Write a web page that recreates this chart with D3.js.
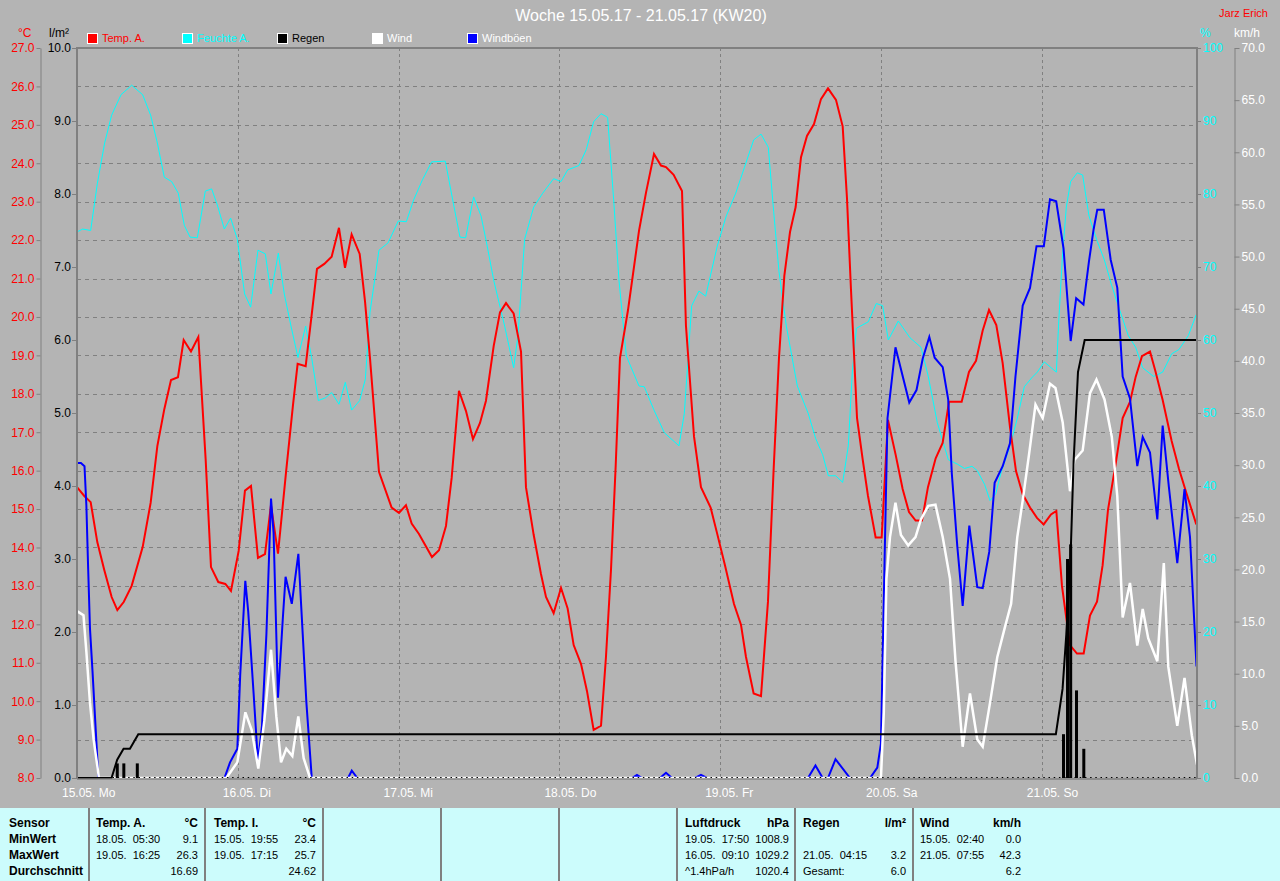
<!DOCTYPE html>
<html><head><meta charset="utf-8">
<script src="https://cdn.jsdelivr.net/npm/d3@7"></script>
<style>
html,body{margin:0;padding:0;background:#b4b4b4;}
svg{display:block;font-family:"Liberation Sans",Arial,sans-serif;}
</style></head><body>
<svg id="c" width="1280" height="881"></svg>
<script>
// ---------- DATA (hours since 15.05. 00:00, value) ----------
const titleText = "Woche 15.05.17 - 21.05.17 (KW20)";
const dayLabels = ["15.05. Mo","16.05. Di","17.05. Mi","18.05. Do","19.05. Fr","20.05. Sa","21.05. So"];
const legendNames = ["Temp. A.","Feuchte A.","Regen","Wind","Windböen"];
const tempTicks = d3.range(8, 28, 1);
const rainTicks = d3.range(0, 11, 1);
const humTicks = d3.range(0, 101, 10);
const windTicks = d3.range(0, 71, 5);

const tempA = [[0,15.57],[1.09,15.34],[2.04,15.18],[3.03,14.14],[4.08,13.41],[5.17,12.71],[6.02,12.37],[6.97,12.58],[8.16,13.0],[9.8,14.01],[10.99,15.16],[11.99,16.64],[13.03,17.6],[14.03,18.36],[15.07,18.43],[15.92,19.4],[17.01,19.1],[18.11,19.48],[19.2,16.3],[20.0,13.49],[21.09,13.1],[22.14,13.05],[22.98,12.87],[24.13,13.91],[25.07,15.48],[25.97,15.6],[27.01,13.73],[28.06,13.83],[28.95,15.1],[30.0,13.84],[31.19,15.94],[32.24,17.71],[32.93,18.78],[34.13,18.72],[35.02,20.05],[35.82,21.25],[36.91,21.38],[38.01,21.57],[39.1,22.32],[40.0,21.28],[40.99,22.15],[42.19,21.64],[42.98,20.42],[43.73,18.93],[45.07,15.97],[46.96,15.04],[48.06,14.9],[49.1,15.1],[49.95,14.62],[51.04,14.35],[52.98,13.75],[54.03,13.93],[55.07,14.56],[55.92,15.81],[57.01,18.08],[58.06,17.55],[59.1,16.82],[60.15,17.24],[61.04,17.82],[62.19,19.24],[63.13,20.12],[64.03,20.36],[65.17,20.09],[66.27,19.1],[67.01,15.57],[68.16,14.33],[69.25,13.31],[70.0,12.71],[71.14,12.29],[72.24,12.95],[73.23,12.41],[74.13,11.46],[75.22,10.97],[76.12,10.26],[77.11,9.25],[78.21,9.36],[78.95,11.15],[79.7,13.42],[80.4,16.12],[81.04,18.93],[82.24,20.18],[83.88,22.24],[84.92,23.23],[86.12,24.24],[87.16,23.94],[87.91,23.9],[89.05,23.7],[90.3,23.28],[90.89,19.77],[92.09,16.89],[93.13,15.57],[94.57,15.04],[95.52,14.38],[96.71,13.54],[98.06,12.53],[99.1,11.99],[99.85,11.15],[100.99,10.2],[102.09,10.13],[103.13,12.59],[103.98,16.05],[104.77,18.92],[105.57,21.07],[106.42,22.21],[107.26,22.86],[108.06,24.16],[108.95,24.71],[110.0,25.02],[111.04,25.67],[112.09,25.95],[113.28,25.65],[114.28,24.96],[114.92,23.1],[115.52,20.71],[116.42,17.37],[117.26,16.3],[118.06,15.34],[119.2,14.26],[120.1,14.26],[121.04,17.32],[122.19,16.41],[123.23,15.52],[124.18,14.92],[125.17,14.7],[126.12,14.7],[127.01,15.57],[128.16,16.32],[129.2,16.72],[130.15,17.79],[132.04,17.79],[133.13,18.57],[134.18,18.86],[135.17,19.64],[136.12,20.18],[137.21,19.79],[138.16,18.8],[139.25,17.14],[140.15,15.99],[141.14,15.39],[142.24,15.04],[143.28,14.77],[144.28,14.6],[145.37,14.86],[146.17,14.95],[147.01,13.0],[148.2,11.46],[149.25,11.24],[150.25,11.24],[151.19,12.23],[152.24,12.59],[153.08,13.54],[153.88,14.98],[155.02,16.17],[156.07,17.37],[157.16,17.79],[158.01,18.44],[158.95,18.98],[160.15,19.1],[160.99,18.57],[162.04,17.84],[163.38,16.77],[164.47,16.05],[165.52,15.45],[167.06,14.6]];

const humA = [[0,74.8],[0.85,75.2],[2.04,75.0],[3.03,81.4],[4.13,87.0],[5.17,90.8],[6.57,93.6],[8.16,94.9],[9.8,93.6],[10.99,90.8],[11.99,87.0],[13.03,82.3],[14.13,81.7],[15.12,80.1],[16.02,75.7],[16.87,74.1],[17.96,74.0],[19.15,80.4],[20.1,80.7],[20.94,78.5],[21.99,75.2],[22.93,76.7],[23.93,73.8],[25.02,66.3],[25.92,64.5],[27.01,72.3],[28.11,71.8],[28.95,66.3],[30.05,71.9],[30.94,66.3],[31.94,61.9],[32.98,57.6],[34.13,61.9],[35.02,57.6],[36.02,51.7],[37.11,52.1],[38.01,52.8],[39.1,51.2],[40.05,54.2],[40.99,50.4],[42.19,51.7],[43.03,54.6],[43.73,63.8],[45.07,72.3],[46.42,73.3],[47.96,76.3],[49.15,76.2],[50.25,79.2],[51.59,82.0],[52.93,84.4],[54.97,84.5],[56.22,78.5],[57.16,74.1],[58.01,74.0],[59.2,79.6],[60.3,77.0],[61.09,73.5],[62.19,68.2],[63.83,61.9],[65.17,56.2],[65.82,60.6],[66.81,73.8],[68.16,78.2],[69.5,80.1],[71.14,82.1],[72.24,81.7],[73.23,83.3],[74.92,83.9],[76.02,86.1],[77.11,89.9],[78.21,91.0],[79.2,90.5],[80.1,79.2],[80.89,68.2],[81.99,57.8],[83.88,53.7],[84.67,53.6],[86.07,50.5],[87.66,47.3],[89.85,45.5],[90.64,49.9],[91.74,64.7],[92.83,66.7],[93.83,66.0],[95.57,72.9],[96.91,77.0],[98.31,80.1],[99.6,83.6],[100.99,87.4],[102.09,88.2],[103.18,86.4],[103.98,77.6],[104.77,69.4],[105.87,61.9],[107.51,53.7],[109.15,49.9],[110.25,46.5],[111.29,44.3],[112.14,41.4],[113.23,41.4],[114.28,40.5],[115.12,45.5],[115.72,55.6],[116.32,61.6],[118.11,62.5],[119.3,65.0],[120.25,64.7],[121.09,60.0],[122.58,62.6],[124.33,60.3],[125.97,59.0],[127.06,55.0],[128.4,48.7],[130.05,43.6],[131.39,43.0],[132.48,42.4],[133.58,42.7],[134.37,42.1],[135.47,40.2],[136.27,38.0],[137.11,38.9],[137.91,41.8],[139.25,45.5],[140.35,49.3],[141.39,53.6],[142.48,54.8],[143.33,55.6],[144.37,57.0],[146.17,55.6],[146.56,63.1],[147.11,71.9],[147.66,78.2],[148.3,81.7],[149.3,82.9],[150.1,82.6],[151.04,77.0],[152.28,73.5],[153.33,71.0],[154.42,67.5],[155.52,64.4],[156.91,60.6],[158.01,59.0],[159.05,56.2],[160.69,55.0],[162.04,55.6],[163.38,58.1],[164.47,58.7],[165.87,60.6],[167.06,63.5]];

const rainSum = [[0,0],[5.15,0],[6.0,0.25],[6.95,0.4],[7.9,0.4],[9.15,0.6],[146.1,0.6],[147.1,1.22],[147.66,1.97],[148.3,3.04],[148.73,4.3],[149.4,5.56],[150.4,6.0],[167.16,6.0]];
const rainBars = [[6.01,0.2],[6.99,0.2],[9.0,0.2],[147.24,0.6],[147.84,3.0],[148.31,3.2],[149.18,1.2],[150.27,0.4]];

const wind = [[0,16.0],[0.97,15.6],[1.4,12.1],[1.94,7.2],[2.48,3.7],[3.28,0],[22.29,0],[23.93,1.5],[25.13,6.3],[26.07,4.6],[27.06,0.9],[27.96,5.5],[28.96,12.3],[29.75,5.9],[30.45,1.5],[31.24,2.8],[32.14,2.1],[33.03,5.9],[33.83,1.9],[34.78,0],[119.99,0],[120.42,6.3],[120.81,19.1],[121.34,23.1],[122.16,26.4],[122.97,23.3],[124.06,22.3],[125.15,23.1],[125.96,24.8],[127.05,26.1],[128.13,26.2],[129.21,23.1],[130.3,19.1],[131.12,11.2],[132.19,3.0],[133.28,8.1],[134.37,3.7],[135.18,3.0],[136.27,7.2],[137.36,11.6],[138.43,14.3],[139.42,16.7],[140.34,23.1],[141.15,26.6],[142.13,31.2],[143.06,35.8],[144.13,34.5],[145.22,37.8],[146.04,37.4],[147.12,34.1],[148.21,27.5],[148.87,30.5],[150.1,31.4],[151.19,36.9],[152.16,38.2],[153.36,36.3],[154.45,32.7],[155.27,27.0],[156.07,15.4],[157.16,18.7],[158.25,12.7],[159.06,16.2],[159.88,13.4],[161.24,11.2],[162.21,20.6],[162.87,10.7],[164.22,5.0],[165.3,9.6],[166.39,4.1],[167.16,1.3]];

const gusts = [[0,30.2],[0.58,30.2],[1.12,29.9],[1.4,26.1],[1.67,20.0],[1.94,14.3],[2.31,10.3],[2.76,5.0],[3.19,0],[22.01,0],[22.84,1.5],[23.93,2.8],[24.36,9.9],[25.12,18.9],[25.55,16.0],[26.36,8.1],[27.01,1.5],[27.61,5.0],[28.27,13.8],[28.96,26.8],[29.34,23.5],[30.0,7.7],[30.7,15.1],[31.13,19.3],[32.06,16.7],[33.04,21.5],[33.69,13.8],[34.24,7.2],[35.04,0],[40.45,0],[41.01,0.7],[41.84,0],[82.84,0],[83.58,0.3],[84.33,0],[87.01,0],[87.91,0.5],[88.81,0],[92.24,0],[93.13,0.3],[94.03,0],[109.1,0],[110.22,1.2],[111.3,0],[112.09,0],[113.21,1.8],[115.37,0],[118.36,0],[119.45,1.0],[119.99,3.3],[120.52,20.4],[120.97,34.5],[122.16,41.3],[124.22,36.0],[125.3,37.2],[126.22,40.2],[127.21,42.3],[128.01,40.3],[129.21,39.4],[130.03,36.3],[130.57,29.2],[131.39,22.2],[132.19,16.5],[133.18,24.2],[134.37,18.3],[135.18,18.2],[136.16,21.7],[136.96,28.3],[138.16,29.9],[139.25,32.1],[140.07,38.5],[141.15,45.3],[142.24,47.0],[143.21,51.0],[144.3,51.0],[145.22,55.5],[146.15,55.3],[147.24,50.8],[148.31,41.9],[149.13,46.0],[150.22,45.4],[151.03,49.5],[151.73,52.6],[152.28,54.5],[153.25,54.5],[154.28,49.7],[155.27,47.0],[156.07,38.5],[157.16,36.4],[158.25,29.9],[159.06,32.7],[160.15,31.2],[161.24,24.8],[162.04,33.8],[162.97,27.9],[164.22,20.6],[165.3,27.7],[166.12,23.1],[167.09,10.7]];

// table
const tableCols = [
  {x:9, r:null, head:["Sensor",""], rows:[["MinWert",""],["MaxWert",""],["Durchschnitt",""]], bold:true},
  {x:96, r:198, head:["Temp. A.","°C"], rows:[["18.05.  05:30","9.1"],["19.05.  16:25","26.3"],["","16.69"]]},
  {x:214, r:316, head:["Temp. I.","°C"], rows:[["15.05.  19:55","23.4"],["19.05.  17:15","25.7"],["","24.62"]]},
  {x:685, r:789, head:["Luftdruck","hPa"], rows:[["19.05.  17:50","1008.9"],["16.05.  09:10","1029.2"],["^1.4hPa/h","1020.4"]]},
  {x:803, r:906, head:["Regen","l/m²"], rows:[["",""],["21.05.  04:15","3.2"],["Gesamt:","6.0"]]},
  {x:920, r:1021, head:["Wind","km/h"], rows:[["15.05.  02:40","0.0"],["21.05.  07:55","42.3"],["","6.2"]]}
];
const tableLines = [89,205,323,441,559,677,795,913];

// ---------- LAYOUT ----------
const L=77, R=1197, T=48, B=778;
const COL = {temp:"#ff0000", hum:"#00ffff", rain:"#000000", wind:"#ffffff", gust:"#0000ff"};
const GRID = "#808080";

const svg = d3.select("#c");
svg.append("rect").attr("width",1280).attr("height",881).attr("fill","#b4b4b4");

const x = d3.scaleLinear().domain([0,168]).range([L, L+168*6.7]);
const yT = d3.scaleLinear().domain([8,27]).range([B,T]);
const yR = d3.scaleLinear().domain([0,10]).range([B,T]);
const yH = d3.scaleLinear().domain([0,100]).range([B,T]);
const yW = d3.scaleLinear().domain([0,70]).range([B,T]);

// grid
const g = svg.append("g");
g.selectAll("line.h").data(tempTicks.slice(1,-1)).join("line")
  .attr("x1",L).attr("x2",R).attr("y1",d=>Math.round(yT(d))+0.5).attr("y2",d=>Math.round(yT(d))+0.5)
  .attr("stroke",GRID).attr("stroke-dasharray","4,4");
g.selectAll("line.v").data(d3.range(1,7)).join("line")
  .attr("x1",d=>Math.round(x(d*24))+0.5).attr("x2",d=>Math.round(x(d*24))+0.5).attr("y1",T).attr("y2",B)
  .attr("stroke",GRID).attr("stroke-dasharray","3,3");

// title etc.
svg.append("text").attr("x",641).attr("y",21).attr("text-anchor","middle").attr("fill","#fff")
  .attr("font-size",16).text(titleText);
svg.append("text").attr("x",1268).attr("y",17).attr("text-anchor","end").attr("fill","#ff0000")
  .attr("font-size",11).text("Jarz Erich");
svg.append("text").attr("x",18).attr("y",37).attr("fill",COL.temp).attr("font-size",12).text("°C");
svg.append("text").attr("x",49).attr("y",37).attr("fill","#000").attr("font-size",12).text("l/m²");
svg.append("text").attr("x",1200).attr("y",37).attr("fill",COL.hum).attr("font-size",12).text("%");
svg.append("text").attr("x",1234).attr("y",37).attr("fill","#fff").attr("font-size",12).text("km/h");

// legend
const legCols = [COL.temp, COL.hum, COL.rain, COL.wind, COL.gust];
const legText = [COL.temp, COL.hum, "#000", "#fff", "#fff"];
const legX = [87,182,277,372,467];
legendNames.forEach((n,i)=>{
  svg.append("rect").attr("x",legX[i]+0.5).attr("y",33.5).attr("width",10).attr("height",10)
    .attr("fill",legCols[i]).attr("stroke","#fff");
  svg.append("text").attr("x",legX[i]+15).attr("y",42).attr("fill",legText[i]).attr("font-size",11).text(n);
});

// axes
function styleAxis(sel, color){
  sel.attr("font-family",null).attr("font-size",null);
  sel.selectAll("text").attr("fill",color).attr("font-size",12);
  sel.selectAll("line").attr("stroke",GRID);
  sel.select(".domain").attr("stroke",GRID);
}
svg.append("g").attr("transform","translate(40.5,0)")
  .call(d3.axisLeft(yT).tickValues(tempTicks).tickFormat(d3.format(".1f")).tickSize(4).tickPadding(2).tickSizeOuter(0))
  .call(s=>styleAxis(s,COL.temp));
svg.append("g").attr("transform",`translate(${L},0)`)
  .call(d3.axisLeft(yR).tickValues(rainTicks).tickFormat(d3.format(".1f")).tickSize(5).tickPadding(1).tickSizeOuter(0))
  .call(s=>{styleAxis(s,"#000"); s.select(".domain").remove();});
svg.append("g").attr("transform",`translate(${R},0)`)
  .call(d3.axisRight(yH).tickValues(humTicks).tickFormat(d3.format("d")).tickSize(4).tickPadding(2).tickSizeOuter(0))
  .call(s=>{styleAxis(s,COL.hum); s.select(".domain").remove();});
svg.append("g").attr("transform","translate(1234.5,0)")
  .call(d3.axisRight(yW).tickValues(windTicks).tickFormat(d3.format(".1f")).tickSize(5).tickPadding(2).tickSizeOuter(0))
  .call(s=>styleAxis(s,"#fff"));

// x labels
svg.selectAll("text.day").data(dayLabels).join("text")
  .attr("x",(d,i)=>x(i*24)-15).attr("y",797).attr("fill","#fff").attr("font-size",12).text(d=>d);

// clip
svg.append("clipPath").attr("id","pc").append("rect").attr("x",L).attr("y",T).attr("width",R-L).attr("height",B-T+3);
const p = svg.append("g").attr("clip-path","url(#pc)");

const line = ys => d3.line().x(d=>x(d[0])).y(d=>ys(d[1]));
p.append("path").datum(humA).attr("d",line(yH)).attr("fill","none").attr("stroke",COL.hum).attr("stroke-width",1);
p.append("path").datum(tempA).attr("d",line(yT)).attr("fill","none").attr("stroke",COL.temp).attr("stroke-width",2);
p.append("path").datum(gusts).attr("d",line(yW)).attr("fill","none").attr("stroke",COL.gust).attr("stroke-width",2);
p.append("path").datum(wind).attr("d",line(yW)).attr("fill","none").attr("stroke",COL.wind).attr("stroke-width",2.5);
p.append("path").datum(rainSum).attr("d",line(yR)).attr("fill","none").attr("stroke",COL.rain).attr("stroke-width",2);
p.selectAll("rect.bar").data(rainBars).join("rect")
  .attr("x",d=>x(d[0])-1.5).attr("width",3).attr("y",d=>yR(d[1])).attr("height",d=>yR(0)-yR(d[1]))
  .attr("fill",COL.rain);
p.append("line").attr("x1",x(5.3)).attr("x2",R).attr("y1",777.5).attr("y2",777.5)
  .attr("stroke","#000").attr("stroke-dasharray","1.5,3.7");

// frame
svg.append("line").attr("x1",L).attr("x2",R+1).attr("y1",T).attr("y2",T).attr("stroke",GRID).attr("stroke-width",2);
svg.append("line").attr("x1",L).attr("x2",L).attr("y1",T-1).attr("y2",B+1).attr("stroke",GRID).attr("stroke-width",2);
svg.append("line").attr("x1",R).attr("x2",R).attr("y1",T-1).attr("y2",B+1).attr("stroke",GRID).attr("stroke-width",2);
svg.append("line").attr("x1",L).attr("x2",R).attr("y1",B+1).attr("y2",B+1).attr("stroke",GRID).attr("stroke-width",1.5);

// table
svg.append("rect").attr("x",0).attr("y",808).attr("width",1280).attr("height",73).attr("fill","#ccfcfc");
tableLines.forEach(lx=>svg.append("line").attr("x1",lx).attr("x2",lx).attr("y1",808).attr("y2",881)
  .attr("stroke","#808080").attr("stroke-width",2));
const rowY = [827,843,859,875];
tableCols.forEach(c=>{
  const rows = [c.head].concat(c.rows);
  rows.forEach((r,i)=>{
    const bold = c.bold || i===0;
    svg.append("text").attr("x",c.x).attr("y",rowY[i]).attr("fill","#000")
      .attr("font-size",bold?12:11).attr("font-weight",bold?"bold":"normal")
      .style("white-space","pre").text(r[0]);
    if(c.r!==null && r[1]!=="") svg.append("text").attr("x",c.r).attr("y",rowY[i]).attr("text-anchor","end")
      .attr("fill","#000").attr("font-size",bold?12:11).attr("font-weight",bold?"bold":"normal").text(r[1]);
  });
});
</script>
</body></html>
